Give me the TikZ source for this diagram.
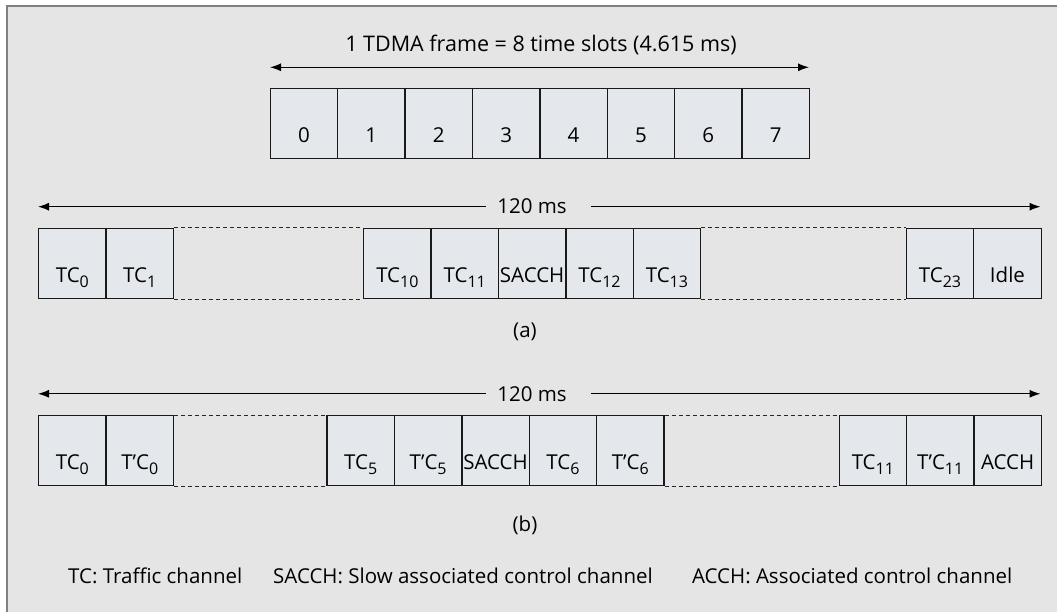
\documentclass[tikz,border=0pt]{standalone}
\usepackage{fontspec}
\setmainfont{Open Sans}
\usetikzlibrary{arrows.meta}
\definecolor{panel}{HTML}{E5E5E5}
\definecolor{slotfill}{HTML}{E4E8EC}
\definecolor{framegray}{HTML}{808080}
% lowered channel index
\newcommand\lo[1]{\raisebox{-5pt}{\fontsize{16}{16}\selectfont #1}}

\begin{document}
\begin{tikzpicture}[x=1pt,y=-1pt,
  font=\fontsize{20.5}{24}\selectfont,
  slot/.style={draw=black!90, line width=1.3pt, fill=slotfill, rectangle,
    inner sep=0pt, minimum width=67.4pt, minimum height=70pt,
    text height=54pt, text depth=16pt, anchor=north west},
  gapline/.style={draw=black!85, line width=1pt, dash pattern=on 4pt off 3pt},
  tip/.style={line width=1.1pt, -{Latex[length=11pt,width=8pt]}},
  both/.style={line width=1.1pt, {Latex[length=11pt,width=8pt]}-{Latex[length=11pt,width=8pt]}},
]
\useasboundingbox (0,0) rectangle (1057,612);
\fill[white] (0,0) rectangle (1057,612);
\fill[panel] (7,6) rectangle (1057,612);
\draw[framegray, line width=1.5pt] (7,612) -- (7,6) -- (1057,6);

% one TDMA frame
\node[anchor=base, font=\fontsize{21.5}{24}\selectfont] (ttl) at (541,51.7) {1 TDMA frame = 8 time slots (4.615 ms)};
\foreach \i in {0,...,7}
  \node[slot] (s\i) at ({269.6+67.4*\i},88) {\i};
\coordinate (fl) at (270,67.3);
\coordinate (fr) at (809,67.3);
\draw[both] (fl) -- (fr);

% (a) 26-frame multiframe
\node[anchor=base] (la) at (532,214) {120 ms};
\coordinate (al) at (38,206.7);
\coordinate (ar) at (1040.5,206.7);
\draw[tip, shorten <=8pt] (la.west |- al) -- (al);
\draw[tip, shorten <=21pt] (la.east |- ar) -- (ar);

\node[slot] (a1) at (38,228) {TC\lo{0}};
\node[slot] (a2) at (105.4,228) {TC\lo{1}};
\node[slot] (a3) at (363,228) {TC\lo{10}};
\node[slot] (a4) at (430.4,228) {TC\lo{11}};
\node[slot] (a5) at (497.8,228) {SACCH};
\node[slot] (a6) at (565.2,228) {TC\lo{12}};
\node[slot] (a7) at (632.6,228) {TC\lo{13}};
\node[slot] (a8) at (905.7,228) {TC\lo{23}};
\node[slot] (a9) at (973.1,228) {Idle};
\draw[gapline] (a2.north east) -- (a3.north west);
\draw[gapline] (a2.south east) -- (a3.south west);
\draw[gapline] (a7.north east) -- (a8.north west);
\draw[gapline] (a7.south east) -- (a8.south west);
\node[anchor=base] (capa) at (525,337) {(a)};

% (b) half-rate multiframe
\node[anchor=base] (lb) at (532,401) {120 ms};
\coordinate (bl) at (38,393.8);
\coordinate (br) at (1040.5,393.8);
\draw[tip, shorten <=8pt] (lb.west |- bl) -- (bl);
\draw[tip, shorten <=21pt] (lb.east |- br) -- (br);

\node[slot] (b1) at (38,415) {TC\lo{0}};
\node[slot] (b2) at (105.4,415) {T’C\lo{0}};
\node[slot] (b3) at (326.4,415) {TC\lo{5}};
\node[slot] (b4) at (393.8,415) {T’C\lo{5}};
\node[slot] (b5) at (461.2,415) {SACCH};
\node[slot] (b6) at (528.6,415) {TC\lo{6}};
\node[slot] (b7) at (596,415) {T’C\lo{6}};
\node[slot] (b8) at (838.5,415) {TC\lo{11}};
\node[slot] (b9) at (905.9,415) {T’C\lo{11}};
\node[slot] (b10) at (973.3,415) {ACCH};
\draw[gapline] (b2.north east) -- (b3.north west);
\draw[gapline] (b2.south east) -- (b3.south west);
\draw[gapline] (b7.north east) -- (b8.north west);
\draw[gapline] (b7.south east) -- (b8.south west);
\node[anchor=base] (capb) at (525,531) {(b)};

% legend
\node[anchor=base west, inner sep=0pt] (k1) at (68,583) {TC: Traffic channel};
\node[anchor=base west, inner sep=0pt] (k2) at (273,583) {SACCH: Slow associated control channel};
\node[anchor=base east, inner sep=0pt] (k3) at (1012.5,583) {ACCH: Associated control channel};
\end{tikzpicture}
\end{document}
